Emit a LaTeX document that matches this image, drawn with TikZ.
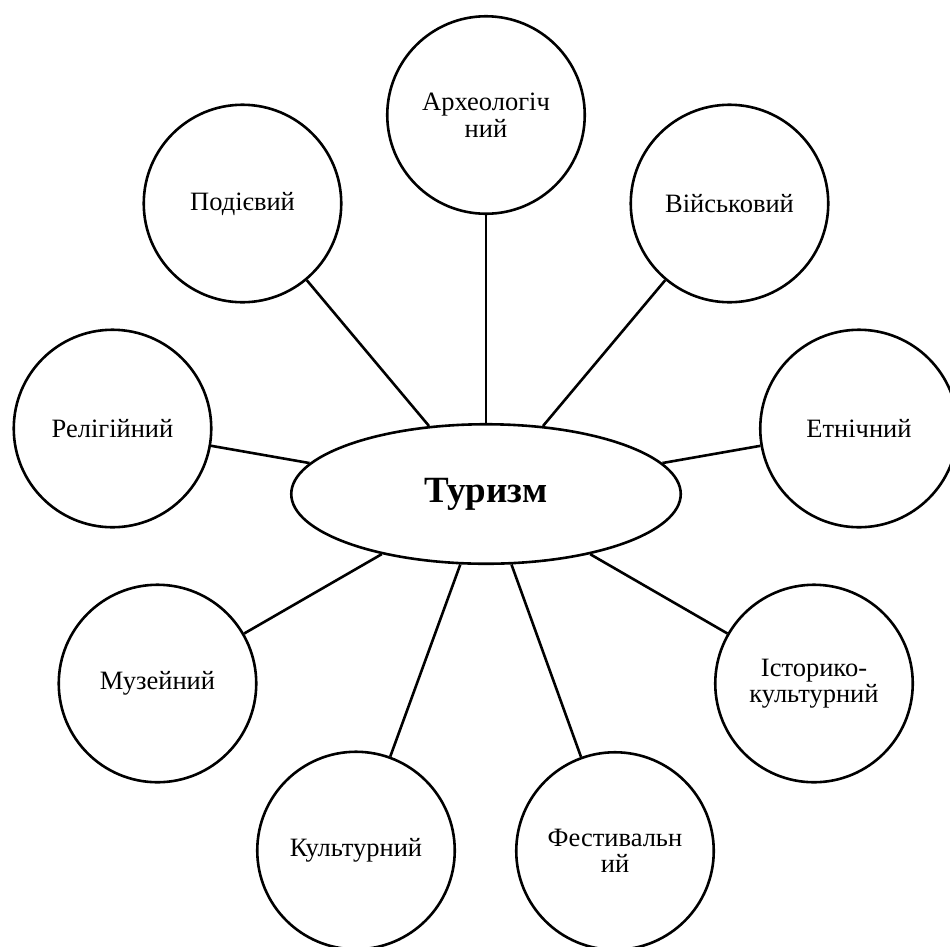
\documentclass[tikz,border=0pt]{standalone}
\usepackage{fontspec}
\setmainfont{Liberation Serif}
\usetikzlibrary{shapes.geometric}
\begin{document}
\begin{tikzpicture}[x=1pt,y=-1pt,
  lw/.style={line width=2.6pt},
  kind/.style={circle,draw,lw,minimum size=197.5pt,inner sep=0pt,align=center,font=\fontsize{26.5}{26.5}\selectfont},
  hub/.style={ellipse,draw,lw,minimum width=389.5pt,minimum height=139.5pt,inner sep=0pt,font=\fontsize{37}{40}\selectfont\bfseries},
  link/.style={lw}]
\useasboundingbox (0,0) rectangle (950,946);
\clip (0,0) rectangle (950,946);
\node[hub] (tour) at (486,494) {Туризм};
\node[kind] (arch) at (486,115) {Археологіч\\ний};
\node[kind] (event) at (242.5,203.5) {Подієвий};
\node[kind] (mil) at (729.5,203.5) {Військовий};
\node[kind] (rel) at (112.5,428.5) {Релігійний};
\node[kind] (eth) at (859,428.5) {Етнічний};
\node[kind] (mus) at (157.5,683.5) {Музейний};
\node[kind] (hist) at (814,683.5) {Історико-\\культурний};
\node[kind] (cult) at (356,850.5) {Культурний};
\node[kind] (fest) at (615,851) {Фестивальн\\ий};
\foreach \n in {arch,event,mil,rel,eth,mus,hist,cult,fest}
  \draw[link] (tour) -- (\n);
\end{tikzpicture}
\end{document}
